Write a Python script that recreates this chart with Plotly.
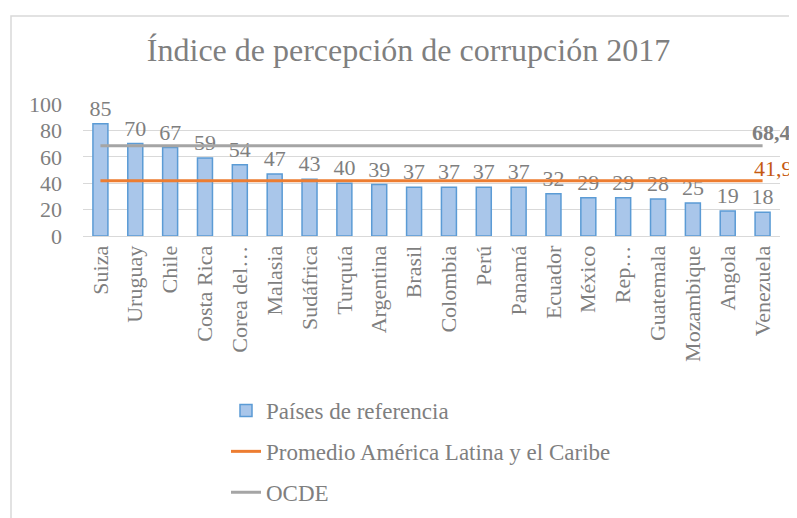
import plotly.graph_objects as go

paises = ["Suiza", "Uruguay", "Chile", "Costa Rica", "Corea del…", "Malasia", "Sudáfrica",
          "Turquía", "Argentina", "Brasil", "Colombia", "Perú", "Panamá", "Ecuador",
          "México", "Rep…", "Guatemala", "Mozambique", "Angola", "Venezuela"]
valores = [85, 70, 67, 59, 54, 47, 43, 40, 39, 37, 37, 37, 37, 32, 29, 29, 28, 25, 19, 18]
promedio_alc = 41.9
ocde = 68.4
y_ticks = [0, 20, 40, 60, 80, 100]

FONT = "Liberation Serif, Times New Roman, serif"
GRAY = "#7f7f7f"

n = len(paises)
alc_vals = [promedio_alc] * n
ocde_vals = [ocde] * n

fig = go.Figure()
fig.add_trace(go.Bar(
    x=paises, y=valores, name="Países de referencia",
    marker=dict(color="#a9c6ea", line=dict(color="#5b9bd5", width=1.5)),
    text=[str(v) for v in valores], textposition="outside", cliponaxis=False,
    constraintext="none",
    textfont=dict(family=FONT, size=22, color=GRAY),
    legendgroup="a",
))
fig.add_trace(go.Scatter(
    x=paises, y=alc_vals, name="Promedio América Latina y el Caribe",
    mode="lines", line=dict(color="#ed7d31", width=3),
    legendgroup="b",
))
fig.add_trace(go.Scatter(
    x=paises, y=ocde_vals, name="OCDE",
    mode="lines", line=dict(color="#a5a5a5", width=3),
    legendgroup="c",
))

# value labels at the end of the reference lines
fig.add_annotation(x=paises[-1], y=ocde, text=f"<b>{ocde:.1f}</b>".replace(".", ","),
                   showarrow=False, xanchor="left", yanchor="middle",
                   xshift=-13, yshift=13,
                   font=dict(family=FONT, size=22, color=GRAY))
fig.add_annotation(x=paises[-1], y=promedio_alc, text=f"{promedio_alc:.1f}".replace(".", ","),
                   showarrow=False, xanchor="left", yanchor="middle",
                   xshift=-11, yshift=12,
                   font=dict(family=FONT, size=22, color="#c55a11"))

# page body has an 8px margin: figure coordinates = reference coordinates - 8
W, H = 789, 510
L, R, T, B = 75, 17, 96, 282
pw, ph = W - L - R, H - T - B

fig.update_layout(
    width=W, height=H,
    margin=dict(l=L, r=R, t=T, b=B, autoexpand=False),
    paper_bgcolor="white", plot_bgcolor="white",
    font=dict(family=FONT, size=22, color=GRAY),
    title=dict(text="Índice de percepción de corrupción 2017",
               x=400.5 / W, xref="container", xanchor="center",
               y=1 - 42 / H, yref="container", yanchor="middle",
               font=dict(family=FONT, size=32, color=GRAY)),
    bargap=0.57,
    showlegend=True,
    legend=dict(xref="container", yref="container", x=218 / W, y=1 - 381 / H,
                xanchor="left", yanchor="top", orientation="v",
                traceorder="grouped", tracegroupgap=8,
                font=dict(family=FONT, size=23, color=GRAY),
                itemwidth=30, bgcolor="rgba(0,0,0,0)"),
    xaxis=dict(tickangle=-90, showgrid=False, showline=True, linecolor="#d9d9d9",
               linewidth=1, ticks="", tickfont=dict(family=FONT, size=22, color=GRAY),
               range=[-0.5, n - 0.5]),
    yaxis=dict(range=[0, 100], tickvals=y_ticks, showgrid=True, gridcolor="#d9d9d9",
               gridwidth=1, zeroline=False, showline=False, ticks="",
               ticklabelstandoff=20,
               tickfont=dict(family=FONT, size=22, color=GRAY)),
    shapes=[dict(type="rect", xref="paper", yref="paper",
                 x0=(3 - L) / pw, x1=(W + 20 - L) / pw,
                 y0=(H - B - 8) / ph, y1=(H - B - (H + 20)) / ph,
                 line=dict(color="#d9d9d9", width=1.5), fillcolor="rgba(0,0,0,0)",
                 layer="below")],
)

fig.write_html("out.html")
